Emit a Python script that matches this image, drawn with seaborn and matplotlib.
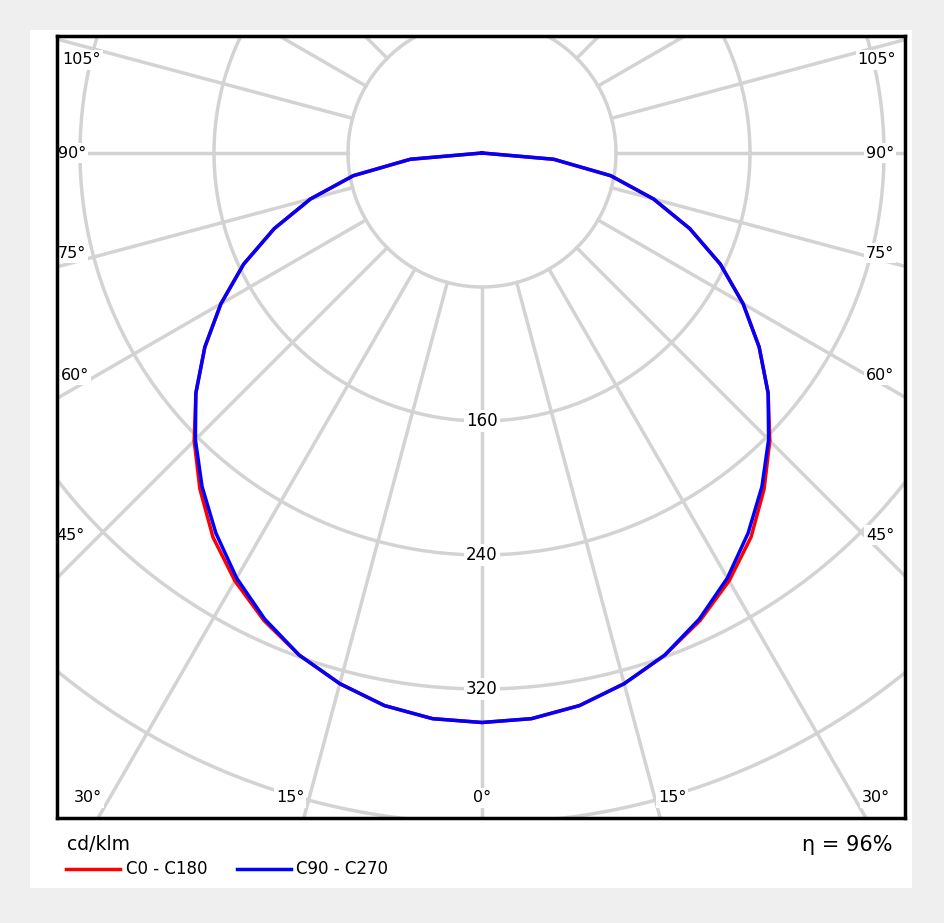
import numpy as np
import pandas as pd
import matplotlib.pyplot as plt
import seaborn as sns

# luminous intensity distribution, cd/klm, gamma angle 0..90 deg
gamma = [0, 5, 10, 15, 20, 25, 30, 35, 40, 45, 50, 55, 60, 65, 70, 75, 80, 85, 90]
c0_c180 = [340, 339, 335, 328, 319, 308, 295, 280, 262, 243, 223, 202, 180, 157, 132, 106, 78, 43, 0]
c90_c270 = [340, 339, 335, 328, 319, 307, 293, 277, 260, 242, 223, 202, 180, 157, 132, 106, 78, 43, 0]
ring_values = [80, 160, 240, 320, 400, 480]
ring_labels = [160, 240, 320]
angle_labels = ['105°', '90°', '75°', '60°', '45°', '30°', '15°', '0°', '15°', '30°', '45°', '60°', '75°', '90°', '105°']
eta_text = '96%'

S = 1.675  # px per cd/klm
CX, CY = 482, 153

def px(x, y):
    return (x - CX) / S, (CY - y) / S

rows = []
for name, vals in [('C0 - C180', c0_c180), ('C90 - C270', c90_c270)]:
    g = np.array(gamma[::-1] + gamma[1:], dtype=float)
    sgn = np.array([-1] * len(gamma) + [1] * (len(gamma) - 1))
    v = np.array(vals[::-1] + vals[1:], dtype=float)
    th = np.radians(g)
    for i in range(len(g)):
        rows.append({'x': sgn[i] * v[i] * np.sin(th[i]), 'y': -v[i] * np.cos(th[i]), 'order': i, 'curve': name})
df = pd.DataFrame(rows)

fig = plt.figure(figsize=(9.45, 9.23), dpi=100)
fig.patch.set_facecolor('#efefef')
fig.add_artist(plt.Rectangle((30 / 945, 1 - 888 / 923), 882 / 945, 858 / 923, transform=fig.transFigure,
                             facecolor='white', edgecolor='none', zorder=0))
ax = fig.add_axes([57 / 945, 1 - 818 / 923, 848 / 945, 782 / 923])
ax.set_xlim(-425 / S, 423 / S)
ax.set_ylim(-665 / S, 117 / S)
ax.set_facecolor('white')
grid = '#d3d3d3'
for a in range(0, 360, 15):
    t = np.radians(a)
    ax.plot([80 * np.sin(t), 700 * np.sin(t)], [-80 * np.cos(t), -700 * np.cos(t)], color=grid, lw=2.5, zorder=1)
tt = np.linspace(0, 2 * np.pi, 400)
for r in ring_values:
    ax.plot(r * np.cos(tt), r * np.sin(tt), color=grid, lw=2.5, zorder=1)

sns.lineplot(data=df, x='x', y='y', hue='curve', units='curve', estimator=None, sort=False,
             palette={'C0 - C180': '#ff0000', 'C90 - C270': '#0000ff'}, lw=2.5, legend=False, ax=ax, zorder=3)

box = dict(facecolor='white', edgecolor='none', pad=1.5)
for r in ring_labels:
    ax.text(0, -r, str(r), ha='center', va='center', fontsize=12, bbox=box, zorder=2)

label_px = [(82, 60), (72, 153), (72, 253), (75, 375), (70, 535), (88, 798), (290, 798), (482, 798),
            (672, 798), (876, 798), (880, 535), (880, 375), (880, 253), (880, 153), (877, 60)]
for (lx, ly), txt in zip(label_px, angle_labels):
    x, y = px(lx, ly)
    ax.text(x, y, txt, ha='center', va='center', fontsize=11.5, bbox=box, zorder=2)

ax.set_xlabel('')
ax.set_ylabel('')
ax.set_xticks([])
ax.set_yticks([])
for s in ax.spines.values():
    s.set_linewidth(2.5)
    s.set_color('black')
    s.set_zorder(5)

fig.text(67 / 945, 1 - 845 / 923, 'cd/klm', fontsize=13.5, va='center')
fig.text(893 / 945, 1 - 845 / 923, 'η = ' + eta_text, fontsize=15, va='center', ha='right')
fig.add_artist(plt.Line2D([66 / 945, 120 / 945], [1 - 869 / 923] * 2, color='#ff0000', lw=2.5))
fig.text(126 / 945, 1 - 869 / 923, 'C0 - C180', fontsize=12, va='center')
fig.add_artist(plt.Line2D([237 / 945, 291 / 945], [1 - 869 / 923] * 2, color='#0000ff', lw=2.5))
fig.text(296 / 945, 1 - 869 / 923, 'C90 - C270', fontsize=12, va='center')

fig.savefig('out.png', dpi=100, facecolor=fig.get_facecolor())
